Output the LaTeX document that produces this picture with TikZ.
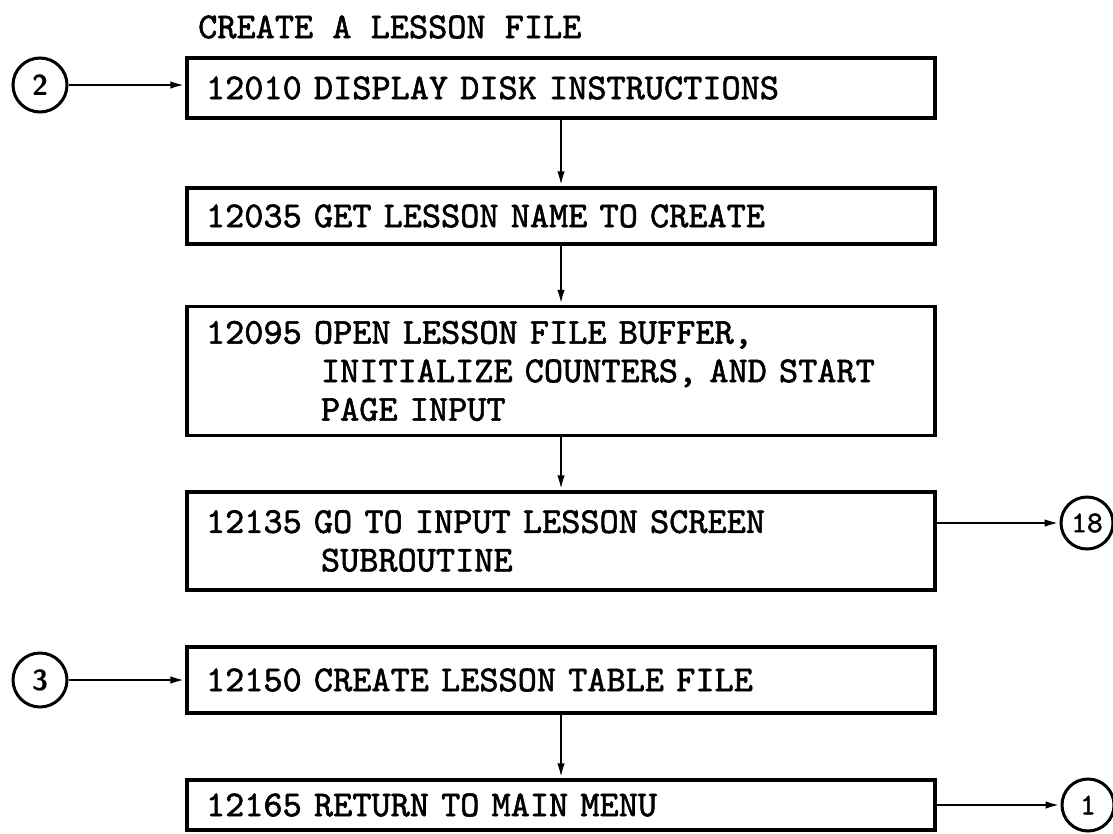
\documentclass[tikz,border=0pt]{standalone}
\usepackage{fontspec}
\usetikzlibrary{arrows.meta}
\newfontfamily\flowtt{lmmono10-regular.otf}[FakeBold=1.6]
\newcommand\flowboxfont{\fontsize{36.5}{38.5}\selectfont\flowtt}
\newcommand\circfontsf{\fontsize{29}{29}\selectfont\sffamily\bfseries}
\newcommand\circfonttt{\fontsize{30}{30}\selectfont\flowtt}
\begin{document}
\begin{tikzpicture}[x=1pt,y=-1pt,
  flowbox/.style={draw, line width=3.4pt, rectangle, minimum width=748pt,
    text width=710pt, inner xsep=19pt, inner ysep=0pt, align=left, font=\flowboxfont},
  conn/.style={line width=2.6pt, -{Latex[length=15pt,width=7.5pt]}},
  conncirc/.style={draw, circle, line width=3pt, minimum size=54pt, inner sep=0pt}]
\useasboundingbox (0,0) rectangle (1113,833);
\node[anchor=west, font=\flowboxfont, inner sep=0pt] (title) at (198,27) {CREATE A LESSON FILE};
\node[flowbox, minimum height=60pt] (b1) at (561,88) {12010 DISPLAY DISK INSTRUCTIONS};
\node[flowbox, minimum height=56pt] (b2) at (561,216) {12035 GET LESSON NAME TO CREATE};
\node[flowbox, minimum height=129pt] (b3) at (561,371) {12095 OPEN LESSON FILE BUFFER,\\\hspace*{3.15em}INITIALIZE COUNTERS, AND START\\\hspace*{3.15em}PAGE INPUT};
\node[flowbox, minimum height=98pt] (b4) at (561,541) {12135 GO TO INPUT LESSON SCREEN\\\hspace*{3.15em}SUBROUTINE};
\node[flowbox, minimum height=66pt] (b5) at (561,680) {12150 CREATE LESSON TABLE FILE};
\node[flowbox, minimum height=50pt] (b6) at (561,805) {12165 RETURN TO MAIN MENU};
\node[conncirc, font=\circfontsf] (c2) at (40,85) {2};
\node[conncirc, font=\circfontsf] (c3) at (40,680) {3};
\node[conncirc, font=\circfonttt, minimum size=52pt] (c18) at (1087,523) {18};
\node[conncirc, font=\circfonttt, minimum size=52pt] (c1) at (1088,805) {1};
\draw[conn] (c2) -- (c2 -| b1.west);
\draw[conn] (b1) -- (b2);
\draw[conn] (b2) -- (b3);
\draw[conn] (b3) -- (b4);
\draw[conn] (b4.east |- c18) -- (c18);
\draw[conn] (c3) -- (b5);
\draw[conn] (b5) -- (b6);
\draw[conn] (b6) -- (c1);
\end{tikzpicture}
\end{document}
